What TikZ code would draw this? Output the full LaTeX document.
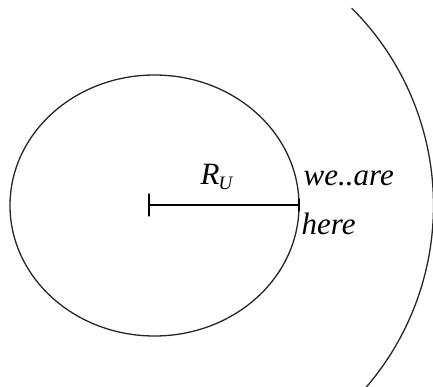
\documentclass[tikz,border=0pt]{standalone}
\usepackage{fontspec}
\setmainfont{Liberation Serif}
\begin{document}
\begin{tikzpicture}[x=1pt,y=-1pt,line width=1.3pt,line join=round,line cap=round,
		font=\fontsize{31}{36}\selectfont\itshape,
		lbl/.style={anchor=base west,inner sep=0pt}]
	\def\cx{154.5} \def\cy{205.5} \def\rx{144.5} \def\ry{130.5} \def\rr{279}
	\useasboundingbox (0,0) rectangle (433,387);
	\clip (0,0) rectangle (433,387);
	\coordinate (O) at (\cx,\cy);
	\coordinate (T) at (149,205);
	\coordinate (P) at (\cx+\rx,205);
	% universe
	\draw[black!85] (O) ellipse [x radius=\rx, y radius=\ry];
	% radius with tick
	\draw (T) -- (P);
	\draw ([yshift=-11]T) -- ([yshift=11]T);
	\draw ([yshift=-6]P) -- ([yshift=6]P);
	% outer arc
	\draw[black!85] (O) ++(-45:\rr) arc[start angle=-45,end angle=42,radius=\rr];
	\node[lbl] (ru) at (200,185) {R\kern-1pt\raisebox{-0.3ex}{\fontsize{19}{19}\selectfont U}};
	\node[lbl] (we) at (303,186) {we..are};
	\node[lbl] (here) at (301,234) {here};
\end{tikzpicture}
\end{document}
